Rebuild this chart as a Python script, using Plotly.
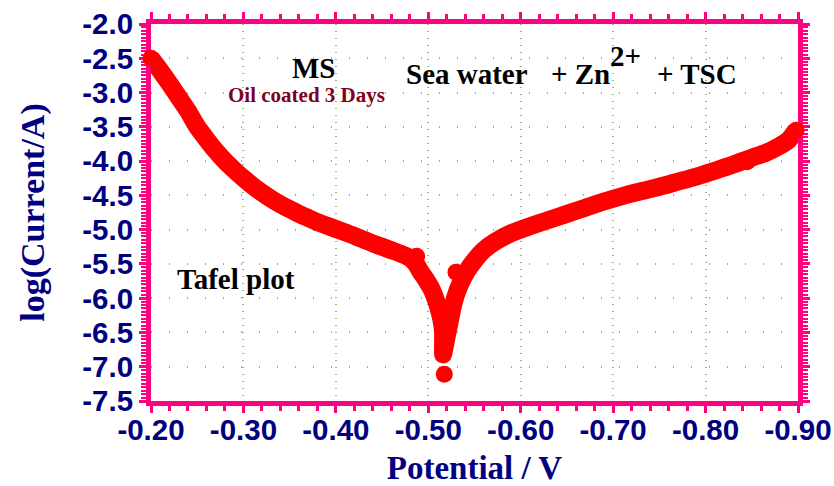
import plotly.graph_objects as go

# ---- data ----
potential_curve = [-0.200, -0.210, -0.220, -0.230, -0.240, -0.250, -0.260, -0.270, -0.280, -0.290,
                   -0.300, -0.310, -0.320, -0.330, -0.340, -0.350, -0.360, -0.370, -0.380, -0.390,
                   -0.400, -0.410, -0.420, -0.430, -0.440, -0.450, -0.460, -0.470, -0.480, -0.486,
                   -0.492, -0.498, -0.504, -0.510, -0.514, -0.516, -0.516, -0.516,
                   -0.520, -0.523, -0.526, -0.530, -0.535, -0.542, -0.550, -0.560, -0.572, -0.590,
                   -0.610, -0.630, -0.650, -0.670, -0.690, -0.710, -0.730, -0.750, -0.770, -0.790,
                   -0.810, -0.830, -0.850, -0.865, -0.880, -0.890, -0.898]
logi_curve = [-2.50, -2.68, -2.87, -3.07, -3.27, -3.50, -3.68, -3.85, -4.00, -4.13,
              -4.25, -4.36, -4.46, -4.55, -4.63, -4.70, -4.77, -4.83, -4.89, -4.94,
              -4.99, -5.04, -5.09, -5.145, -5.20, -5.25, -5.30, -5.35, -5.41, -5.49,
              -5.62, -5.74, -5.88, -6.10, -6.30, -6.50, -6.70, -6.82,
              -6.55, -6.35, -6.15, -5.95, -5.78, -5.60, -5.45, -5.30, -5.18, -5.05,
              -4.95, -4.86, -4.77, -4.68, -4.59, -4.51, -4.44, -4.375, -4.30, -4.225,
              -4.14, -4.05, -3.95, -3.88, -3.78, -3.69, -3.55]
outlier_potential = [-0.5173, -0.530, -0.4874, -0.845, -0.516, -0.516]
outlier_logi = [-7.11, -5.62, -5.39, -4.01, -6.62, -6.80]

x_tick_values = [-0.20, -0.30, -0.40, -0.50, -0.60, -0.70, -0.80, -0.90]
x_tick_labels = ["-0.20", "-0.30", "-0.40", "-0.50", "-0.60", "-0.70", "-0.80", "-0.90"]
y_tick_values = [-2.0, -2.5, -3.0, -3.5, -4.0, -4.5, -5.0, -5.5, -6.0, -6.5, -7.0, -7.5]
y_tick_labels = ["-2.0", "-2.5", "-3.0", "-3.5", "-4.0", "-4.5", "-5.0", "-5.5",
                 "-6.0", "-6.5", "-7.0", "-7.5"]

PINK = "#FF0080"
NAVY = "#000080"
RED = "#FF0000"
GRID = "rgb(150,185,110)"
SERIF = "Liberation Serif, Times New Roman, serif"
SANS = "Liberation Sans, Arial, sans-serif"

fig = go.Figure()
fig.add_trace(go.Scatter(
    x=potential_curve, y=logi_curve, mode="lines",
    line=dict(color=RED, width=18, shape="spline", smoothing=0.6),
    cliponaxis=False, hoverinfo="skip", showlegend=False))
fig.add_trace(go.Scatter(
    x=[potential_curve[0], potential_curve[-1]] + outlier_potential,
    y=[logi_curve[0], logi_curve[-1]] + outlier_logi, mode="markers",
    marker=dict(size=17, color=RED),
    cliponaxis=False, hoverinfo="skip", showlegend=False))

axis_common = dict(
    showline=True, linecolor=PINK, linewidth=5, mirror="allticks",
    ticks="outside", tickcolor=PINK, tickwidth=3, ticklen=7,
    showgrid=True, gridcolor=GRID, gridwidth=1.5,
    zeroline=False, layer="below traces", automargin=False,
    tickfont=dict(family=SANS, size=29.5, color=NAVY, weight="bold"),
)

fig.update_layout(
    width=834, height=486,
    margin=dict(l=151, r=36, t=24, b=85),
    paper_bgcolor="white", plot_bgcolor="white",
    xaxis=dict(
        range=[-0.2, -0.9], tickmode="array", tickvals=x_tick_values, ticktext=x_tick_labels,
        griddash="1px,6px", ticklabelstandoff=-8,
        minor=dict(tickmode="linear", tick0=-0.2, dtick=0.02, ticks="outside",
                   ticklen=5, tickwidth=3, tickcolor=PINK, showgrid=False),
        title=dict(text="Potential / V", standoff=31,
                   font=dict(family=SERIF, size=33, color=NAVY, weight="bold")),
        **axis_common),
    yaxis=dict(
        range=[-7.5, -2.0], tickmode="array", tickvals=y_tick_values, ticktext=y_tick_labels,
        griddash="1px,17px",
        minor=dict(tickmode="linear", tick0=-2.0, dtick=0.05, ticks="outside",
                   ticklen=5, tickwidth=2, tickcolor=PINK, showgrid=False),
        title=dict(text="log(Current/A)", standoff=29,
                   font=dict(family=SERIF, size=34, color=NAVY, weight="bold")),
        **axis_common),
)

ann_font = dict(family=SERIF, size=29, color="black", weight="bold")
fig.add_annotation(x=-0.3763, y=-2.637, text="MS", showarrow=False, font=ann_font,
                   xanchor="center", yanchor="middle")
fig.add_annotation(x=-0.3677, y=-3.043, text="Oil coated 3 Days", showarrow=False,
                   font=dict(family=SERIF, size=21, color="#800020", weight="bold"),
                   xanchor="center", yanchor="middle")
fig.add_annotation(x=-0.4738, y=-2.729, text="Sea water", showarrow=False, font=ann_font,
                   xanchor="left", yanchor="middle")
fig.add_annotation(x=-0.6306, y=-2.729, text="+ Zn", showarrow=False, font=ann_font,
                   xanchor="left", yanchor="middle")
fig.add_annotation(x=-0.6941, y=-2.467, text="2+", showarrow=False, font=ann_font,
                   xanchor="left", yanchor="middle")
fig.add_annotation(x=-0.7448, y=-2.729, text="+ TSC", showarrow=False, font=ann_font,
                   xanchor="left", yanchor="middle")
fig.add_annotation(x=-0.292, y=-5.72, text="Tafel plot", showarrow=False, font=ann_font,
                   xanchor="center", yanchor="middle")

fig.write_html("out.html", config={"displayModeBar": False},
               post_script="document.body.style.margin='0';")
